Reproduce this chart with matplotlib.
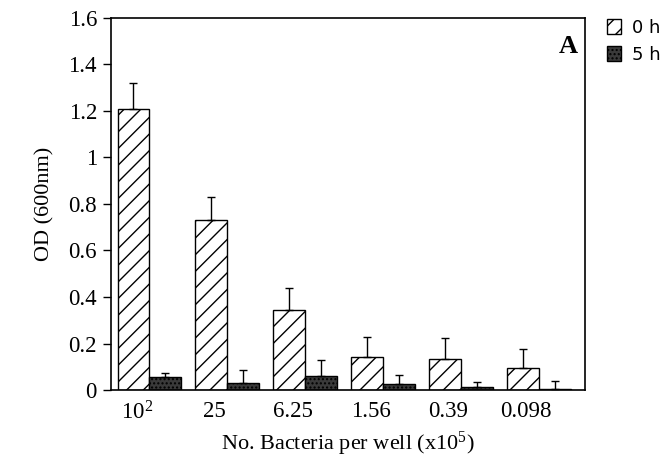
import numpy as np
import matplotlib.pyplot as plt

plt.rcParams['font.family'] = ['Liberation Serif', 'DejaVu Serif']
plt.rcParams['mathtext.fontset'] = 'custom'
plt.rcParams['mathtext.rm'] = 'Liberation Serif'
plt.rcParams['mathtext.it'] = 'Liberation Serif:italic'
plt.rcParams['hatch.linewidth'] = 1.0

labels = ['$\\mathrm{10^2}$', '25', '6.25', '1.56', '0.39', '0.098']
od_0h = [1.21, 0.73, 0.345, 0.14, 0.135, 0.095]
err_0h = [0.11, 0.10, 0.095, 0.09, 0.09, 0.08]
od_5h = [0.055, 0.03, 0.06, 0.025, 0.015, 0.005]
err_5h = [0.02, 0.055, 0.07, 0.04, 0.02, 0.035]

fig = plt.figure(figsize=(6.6, 4.61), dpi=100)
ax = fig.add_axes([0.168, 0.154, 0.718, 0.807])

x = np.arange(len(labels))
w = 0.41
b1 = ax.bar(x - 0.04, od_0h, w, facecolor='white', edgecolor='black', hatch='//', lw=1.0,
            yerr=[np.zeros(6), err_0h], capsize=3, error_kw=dict(lw=1.0, capthick=1.0))
b2 = ax.bar(x - 0.04 + w, od_5h, w, facecolor='#3a3a3a', edgecolor='black', hatch='....', lw=1.0,
            yerr=[np.zeros(6), err_5h], capsize=3, error_kw=dict(lw=1.0, capthick=1.0))

ax.set_xlim(-0.33, 5.75)
ax.set_ylim(0, 1.6)
ax.set_yticks([0, 0.2, 0.4, 0.6, 0.8, 1, 1.2, 1.4, 1.6])
ax.set_yticklabels(['0', '0.2', '0.4', '0.6', '0.8', '1', '1.2', '1.4', '1.6'])
ax.set_xticks(x)
ax.set_xticklabels(labels)
ax.tick_params(axis='x', length=0, labelsize=16.5, pad=8)
ax.tick_params(axis='y', direction='out', length=6, labelsize=16.5, width=1.0, pad=4)
for s in ax.spines.values():
    s.set_linewidth(1.2)

ax.set_xlabel('No. Bacteria per well (x10$^\\mathrm{5}$)', fontsize=16, labelpad=4)
ax.set_ylabel('OD (600nm)', fontsize=16, labelpad=10)
ax.text(0.985, 0.955, 'A', transform=ax.transAxes, ha='right', va='top',
        fontsize=19, fontweight='bold')

fig.legend([b1, b2], ['0 h', '5 h'], loc='upper left', bbox_to_anchor=(0.895, 0.995),
           frameon=False, handlelength=0.8, handleheight=0.9,
           handletextpad=0.6, labelspacing=0.5,
           prop={'family': 'DejaVu Sans', 'size': 13})

fig.savefig('out.png', dpi=100)
